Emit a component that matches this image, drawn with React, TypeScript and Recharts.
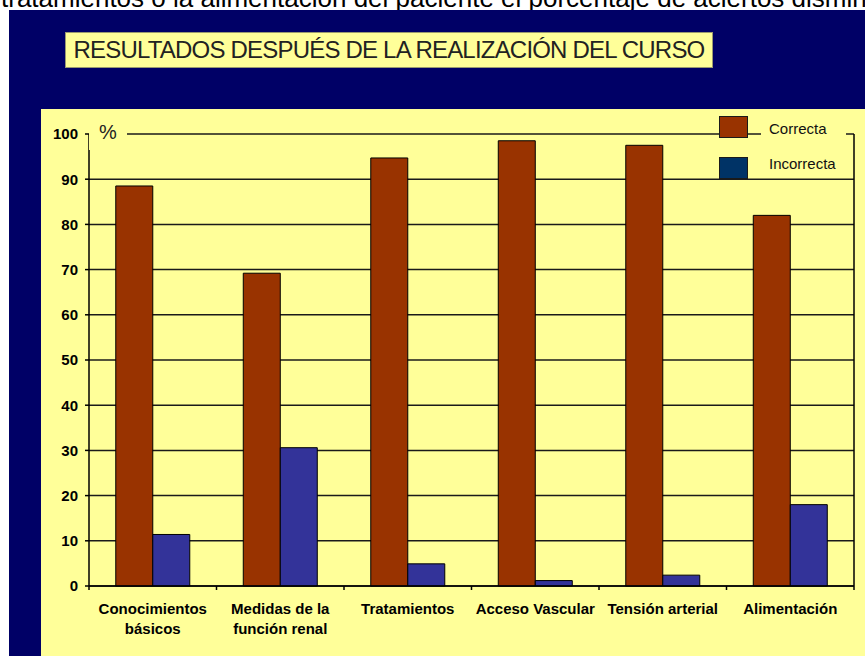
import React from 'react';
import { BarChart, Bar, XAxis, YAxis, CartesianGrid } from 'recharts';

const categories = [
  'Conocimientos\nbásicos',
  'Medidas de la\nfunción renal',
  'Tratamientos',
  'Acceso Vascular',
  'Tensión arterial',
  'Alimentación',
];
const correcta = [88.5, 69.2, 94.7, 98.5, 97.5, 82.0];
const incorrecta = [11.4, 30.6, 4.9, 1.2, 2.4, 18.0];
const yTicks = [0, 10, 20, 30, 40, 50, 60, 70, 80, 90, 100];
const seriesNames = ['Correcta', 'Incorrecta'];
const barColors = ['#993300', '#333399'];
const legendColors = ['#993300', '#003366'];
const titleText = 'RESULTADOS DESPUÉS DE LA REALIZACIÓN DEL CURSO';
const topText =
  'tratamientos o la alimentación del paciente el porcentaje de aciertos disminuye';
const unitLabel = '%';

const data = categories.map((c, i) => ({
  name: c,
  [seriesNames[0]]: correcta[i],
  [seriesNames[1]]: incorrecta[i],
}));

const FONT = '"Liberation Sans", Arial, Helvetica, sans-serif';

const XTick = (props: any) => {
  const { x, y, payload, index, visibleTicksCount, width } = props;
  const half =
    payload && typeof payload.offset === 'number' && payload.offset > 0
      ? payload.offset
      : width / visibleTicksCount / 2;
  const lines = String(payload.value).split('\n');
  return (
    <g>
      <line x1={x - half} x2={x - half} y1={y} y2={y + 4} stroke="#000" strokeWidth={1.5} />
      {index === visibleTicksCount - 1 && (
        <line x1={x + half} x2={x + half} y1={y} y2={y + 4} stroke="#000" strokeWidth={1.5} />
      )}
      <text
        x={x}
        y={y + 28}
        textAnchor="middle"
        fontSize={15}
        fontWeight="bold"
        fill="#000"
        fontFamily={FONT}
      >
        {lines.map((l, i) => (
          <tspan key={i} x={x} dy={i === 0 ? 0 : 20}>
            {l}
          </tspan>
        ))}
      </text>
    </g>
  );
};

export default function App() {
  return (
    <div
      style={{
        position: 'absolute',
        left: 0,
        top: 0,
        width: 865,
        height: 656,
        overflow: 'hidden',
        background: '#ffffff',
        fontFamily: FONT,
      }}
    >
      <div
        style={{
          position: 'absolute',
          left: 1,
          top: -15,
          fontSize: 26,
          lineHeight: '26px',
          whiteSpace: 'nowrap',
          color: '#000',
        }}
      >
        {topText}
      </div>
      <div
        style={{
          position: 'absolute',
          left: 9,
          top: 10,
          width: 856,
          height: 646,
          background: '#000066',
        }}
      />
      <div
        style={{
          position: 'absolute',
          left: 65,
          top: 32,
          width: 648,
          height: 36,
          boxSizing: 'border-box',
          background: '#FFFF99',
          border: '1px solid #9a9a70',
          display: 'flex',
          alignItems: 'center',
          justifyContent: 'center',
          fontSize: 24,
          letterSpacing: -0.8,
          color: '#222',
          whiteSpace: 'nowrap',
        }}
      >
        {titleText}
      </div>
      <div
        style={{
          position: 'absolute',
          left: 41,
          top: 109,
          width: 824,
          height: 547,
          background: '#FFFF99',
        }}
      >
        <BarChart
          width={824}
          height={547}
          data={data}
          margin={{ top: 25, right: 0, bottom: 10, left: 0 }}
          barCategoryGap="21%"
          barGap={0}
        >
          <CartesianGrid vertical={false} stroke="#1a1a1a" strokeWidth={1.5} />
          <XAxis
            dataKey="name"
            interval={0}
            height={60}
            tickSize={0}
            tickMargin={0}
            tickLine={false}
            axisLine={{ stroke: '#000', strokeWidth: 1.5 }}
            tick={<XTick />}
          />
          <YAxis
            width={48}
            domain={[0, 100]}
            ticks={yTicks}
            interval={0}
            tickSize={4}
            tickMargin={7}
            axisLine={{ stroke: '#000', strokeWidth: 1.5 }}
            tickLine={{ stroke: '#000', strokeWidth: 1.5 }}
            tick={{ fill: '#000', fontSize: 15, fontWeight: 'bold', fontFamily: FONT }}
          />
          <YAxis
            yAxisId="r"
            orientation="right"
            width={11}
            domain={[0, 100]}
            tick={false}
            tickLine={false}
            axisLine={{ stroke: '#000', strokeWidth: 1.5 }}
          />
          {seriesNames.map((s, i) => (
            <Bar
              key={s}
              dataKey={s}
              fill={barColors[i]}
              stroke="#000"
              strokeWidth={1}
              isAnimationActive={false}
            />
          ))}
        </BarChart>
      </div>
      <div
        style={{
          position: 'absolute',
          left: 89,
          top: 118,
          width: 38,
          height: 32,
          background: '#FFFF99',
          fontSize: 20,
          lineHeight: '28px',
          textAlign: 'center',
          color: '#222',
        }}
      >
        {unitLabel}
      </div>
      {seriesNames.map((s, i) => (
        <React.Fragment key={s}>
          <div
            style={{
              position: 'absolute',
              left: 719,
              top: i === 0 ? 116 : 157,
              width: 29,
              height: 22,
              boxSizing: 'border-box',
              background: legendColors[i],
              border: '1.5px solid #1a1a1a',
            }}
          />
          <div
            style={{
              position: 'absolute',
              left: 761,
              top: i === 0 ? 119 : 154,
              width: 85,
              height: 20,
              background: '#FFFF99',
              paddingLeft: 8,
              boxSizing: 'border-box',
              fontSize: 15,
              lineHeight: '20px',
              color: '#111',
              whiteSpace: 'nowrap',
            }}
          >
            {s}
          </div>
        </React.Fragment>
      ))}
    </div>
  );
}
